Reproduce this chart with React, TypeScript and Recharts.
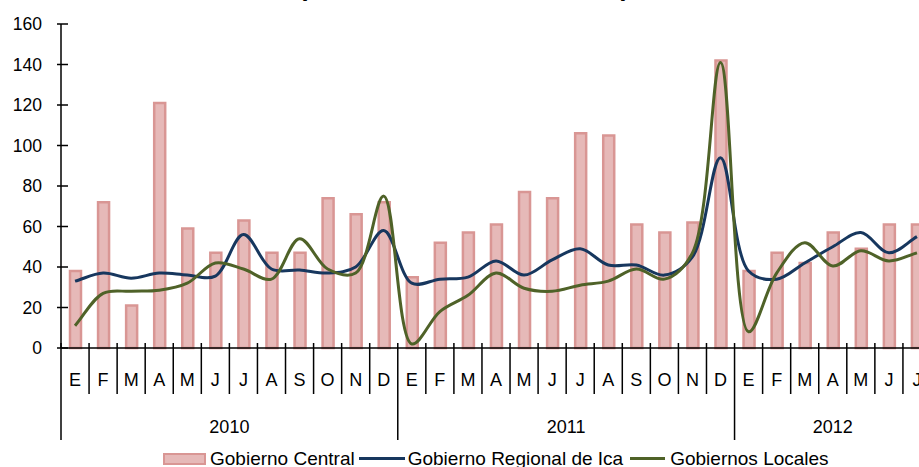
import React from 'react';
import { ComposedChart, Bar, Line, XAxis, YAxis, Legend } from 'recharts';

const monthLabels = ['E', 'F', 'M', 'A', 'M', 'J', 'J', 'A', 'S', 'O', 'N', 'D'];
const years = ['2010', '2011', '2012'];
const monthsPerYear = [12, 12, 7];

const gobiernoCentral = [
  38, 72, 21, 121, 59, 47, 63, 47, 47, 74, 66, 72,
  35, 52, 57, 61, 77, 74, 106, 105, 61, 57, 62, 142,
  38, 47, 42, 57, 49, 61, 61,
];
const gobiernoRegional = [
  33, 37, 34.5, 37, 36, 35.5, 56, 39, 38.5, 37, 40, 58,
  32, 34, 35, 43, 36, 43.5, 49, 41, 41, 36, 45, 94,
  38, 34, 42, 50, 57, 47, 55,
];
const gobiernosLocales = [
  11, 27, 28, 28.5, 32, 42, 39, 34, 54, 39, 37, 75,
  2, 18, 26, 37, 29.5, 28, 31, 33, 39, 34, 47, 141,
  8, 37, 52, 40.5, 48, 43, 47,
];
const yTicks = [0, 20, 40, 60, 80, 100, 120, 140, 160];

type Row = {
  key: string;
  month: string;
  year: string;
  monthIndex: number;
  yearCount: number;
  central: number;
  regional: number;
  locales: number;
};

const data: Row[] = [];
{
  let idx = 0;
  years.forEach((yr, yi) => {
    for (let m = 0; m < monthsPerYear[yi]; m++) {
      data.push({
        key: `${yr}-${m}`,
        month: monthLabels[m],
        year: yr,
        monthIndex: m,
        yearCount: monthsPerYear[yi],
        central: gobiernoCentral[idx],
        regional: gobiernoRegional[idx],
        locales: gobiernosLocales[idx],
      });
      idx++;
    }
  });
}

const FONT = '"Liberation Sans", Arial, sans-serif';
const CHART_W = 940;
const CHART_H = 467;
const MARGIN = { top: 24, right: 9, left: 16, bottom: 0 };
const Y_AXIS_W = 45;
const PLOT_W = CHART_W - MARGIN.left - MARGIN.right - Y_AXIS_W;
const BAND = PLOT_W / data.length;

const COLOR_BAR_FILL = '#E6B9B8';
const COLOR_BAR_STROKE = '#D99694';
const COLOR_BLUE = '#17375E';
const COLOR_GREEN = '#4F6228';

// Centripetal Catmull-Rom smoothing (close to a spreadsheet "smoothed line")
const ALPHA = 0.5;
const smoothCurve: any = (context: any) => {
  let pts: [number, number][] = [];
  return {
    areaStart() {},
    areaEnd() {},
    lineStart() {
      pts = [];
    },
    point(x: number, y: number) {
      pts.push([+x, +y]);
    },
    lineEnd() {
      if (!pts.length) return;
      context.moveTo(pts[0][0], pts[0][1]);
      if (pts.length === 1) return;
      const dist = (a: [number, number], b: [number, number]) => Math.hypot(b[0] - a[0], b[1] - a[1]);
      for (let i = 0; i < pts.length - 1; i++) {
        const p0 = pts[i - 1];
        const p1 = pts[i];
        const p2 = pts[i + 1];
        const p3 = pts[i + 2];
        const l12 = dist(p1, p2);
        const l12a = Math.pow(l12, ALPHA);
        const l12_2a = Math.pow(l12, 2 * ALPHA);
        let c1x = p1[0];
        let c1y = p1[1];
        let c2x = p2[0];
        let c2y = p2[1];
        if (p0) {
          const l01 = dist(p0, p1);
          const l01a = Math.pow(l01, ALPHA);
          const l01_2a = Math.pow(l01, 2 * ALPHA);
          if (l01a > 1e-9) {
            const a = 2 * l01_2a + 3 * l01a * l12a + l12_2a;
            const n = 3 * l01a * (l01a + l12a);
            c1x = (p1[0] * a - p0[0] * l12_2a + p2[0] * l01_2a) / n;
            c1y = (p1[1] * a - p0[1] * l12_2a + p2[1] * l01_2a) / n;
          }
        } else {
          c1x = p1[0] + (p2[0] - p1[0]) / 3;
          c1y = p1[1] + (p2[1] - p1[1]) / 3;
        }
        if (p3) {
          const l23 = dist(p2, p3);
          const l23a = Math.pow(l23, ALPHA);
          const l23_2a = Math.pow(l23, 2 * ALPHA);
          if (l23a > 1e-9) {
            const b = 2 * l23_2a + 3 * l23a * l12a + l12_2a;
            const m = 3 * l23a * (l23a + l12a);
            c2x = (p2[0] * b + p1[0] * l23_2a - p3[0] * l12_2a) / m;
            c2y = (p2[1] * b + p1[1] * l23_2a - p3[1] * l12_2a) / m;
          }
        } else {
          c2x = p2[0] - (p2[0] - p1[0]) / 3;
          c2y = p2[1] - (p2[1] - p1[1]) / 3;
        }
        context.bezierCurveTo(c1x, c1y, c2x, c2y, p2[0], p2[1]);
      }
    },
  };
};

const XTick = (props: any) => {
  const { x, y, payload } = props;
  const row = data[payload.index];
  if (!row) return null;
  const left = x - BAND / 2;
  const isYearStart = row.monthIndex === 0;
  return (
    <g>
      <line x1={left} x2={left} y1={y - 5} y2={isYearStart ? y + 92 : y + 46} stroke="#000" strokeWidth={1.5} />
      <text x={x} y={y + 38} textAnchor="middle" fontSize={18} fontFamily={FONT} fill="#000">
        {row.month}
      </text>
      {isYearStart && (
        <text x={left + (row.yearCount * BAND) / 2} y={y + 85} textAnchor="middle" fontSize={18} fontFamily={FONT} fill="#000">
          {row.year}
        </text>
      )}
    </g>
  );
};

const YTick = (props: any) => {
  const { x, y, payload } = props;
  return (
    <g>
      <line x1={x - 4} x2={x + 7} y1={y} y2={y} stroke="#000" strokeWidth={1.5} />
      <text x={x - 19} y={y} dy="0.35em" textAnchor="end" fontSize={17.5} fontFamily={FONT} fill="#000">
        {payload.value}
      </text>
    </g>
  );
};

const LegendContent = () => (
  <div
    style={{
      display: 'flex',
      alignItems: 'center',
      fontFamily: FONT,
      fontSize: 19,
      lineHeight: '19px',
      color: '#000',
      whiteSpace: 'nowrap',
    }}
  >
    <span
      style={{
        display: 'inline-block',
        width: 39,
        height: 8,
        background: COLOR_BAR_FILL,
        border: `2px solid ${COLOR_BAR_STROKE}`,
        marginRight: 4,
      }}
    />
    <span>Gobierno Central</span>
    <span style={{ display: 'inline-block', width: 46, height: 3, background: COLOR_BLUE, margin: '0 3px 0 4px' }} />
    <span>Gobierno Regional de Ica</span>
    <span style={{ display: 'inline-block', width: 35, height: 3, background: COLOR_GREEN, margin: '0 5px 0 7px' }} />
    <span>Gobiernos Locales</span>
  </div>
);

export default function App() {
  return (
    <div
      style={{
        position: 'absolute',
        left: 0,
        top: 0,
        width: 919,
        height: 467,
        overflow: 'hidden',
        background: '#fff',
      }}
    >
      <svg width={919} height={20} style={{ position: 'absolute', left: 0, top: 0, zIndex: 2 }}>
        <text x={464} y={-4} textAnchor="middle" fontSize={26} fontWeight="bold" fontFamily={FONT} fill="#000">
          (Millones de nuevos soles)
        </text>
      </svg>
      <ComposedChart width={CHART_W} height={CHART_H} data={data} margin={MARGIN} barGap={0}>
        <XAxis
          dataKey="key"
          interval={0}
          tick={<XTick />}
          tickLine={false}
          tickSize={0}
          tickMargin={0}
          height={CHART_H - MARGIN.top - 324}
          axisLine={{ stroke: '#000', strokeWidth: 1.5 }}
        />
        <YAxis
          domain={[0, 160]}
          ticks={yTicks}
          width={Y_AXIS_W}
          tick={<YTick />}
          tickLine={false}
          tickSize={0}
          tickMargin={0}
          interval={0}
          axisLine={{ stroke: '#000', strokeWidth: 1.5 }}
        />
        <Bar
          dataKey="central"
          name="Gobierno Central"
          barSize={11}
          fill={COLOR_BAR_FILL}
          stroke={COLOR_BAR_STROKE}
          strokeWidth={2.5}
          isAnimationActive={false}
        />
        <Line
          dataKey="regional"
          name="Gobierno Regional de Ica"
          type={smoothCurve}
          stroke={COLOR_BLUE}
          strokeWidth={3}
          dot={false}
          activeDot={false}
          isAnimationActive={false}
        />
        <Line
          dataKey="locales"
          name="Gobiernos Locales"
          type={smoothCurve}
          stroke={COLOR_GREEN}
          strokeWidth={3}
          dot={false}
          activeDot={false}
          isAnimationActive={false}
        />
        <Legend
          layout="vertical"
          verticalAlign="middle"
          align="center"
          content={<LegendContent />}
          wrapperStyle={{ position: 'absolute', left: 163, top: 449, width: 720, height: 19 }}
        />
      </ComposedChart>
    </div>
  );
}
